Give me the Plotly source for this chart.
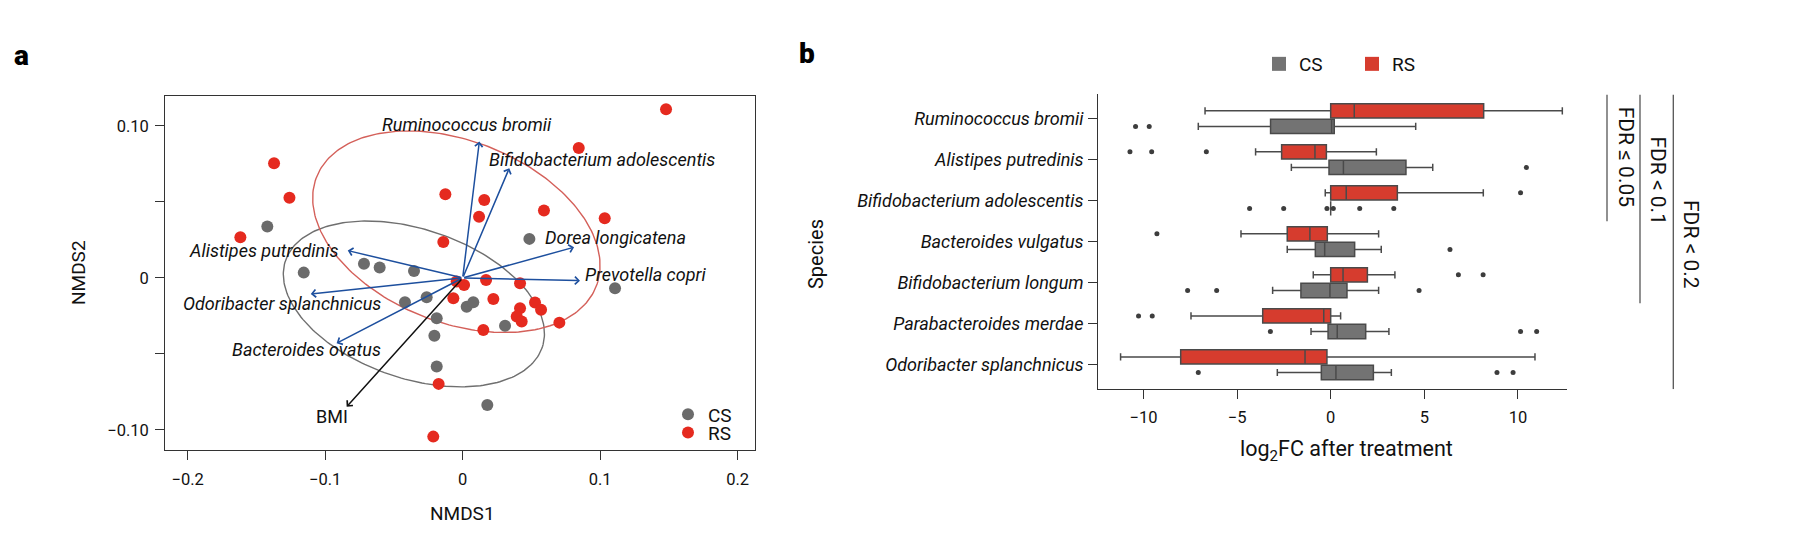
import numpy as np
import plotly.graph_objects as go

# ---------------- Panel a data (NMDS) ----------------
cs_nmds1 = [-0.1421, -0.1156, -0.0718, -0.0604, -0.0354, 0.0485, 0.1108, -0.0262,
            -0.0420, 0.0029, 0.0077, 0.0308, -0.0189, -0.0206, -0.0189, 0.0179]
cs_nmds2 = [0.0338, 0.0035, 0.0094, 0.0068, 0.0046, 0.0257, -0.0068, -0.0127,
            -0.0160, -0.0189, -0.0160, -0.0314, -0.0265, -0.0380, -0.0583, -0.0836]
rs_nmds1 = [-0.1372, -0.1260, -0.1617, 0.1479, 0.0844, -0.0126, 0.0157, 0.0119, 0.0591,
            0.1033, -0.0141, -0.0044, 0.0010, 0.0170, 0.0417, -0.0068, 0.0223, 0.0417,
            0.0526, 0.0570, 0.0393, 0.0429, 0.0150, 0.0703, -0.0175, -0.0214]
rs_nmds2 = [0.0755, 0.0528, 0.0268, 0.1110, 0.0855, 0.0551, 0.0513, 0.0403, 0.0443,
            0.0393, 0.0237, -0.0024, -0.0046, -0.0013, -0.0035, -0.0134, -0.0138, -0.0199,
            -0.0162, -0.0210, -0.0254, -0.0287, -0.0342, -0.0294, -0.0697, -0.1044]

vec_names = ["Ruminococcus bromii", "Bifidobacterium adolescentis", "Dorea longicatena",
             "Prevotella copri", "Alistipes putredinis", "Odoribacter splanchnicus",
             "Bacteroides ovatus"]
vec_x = [0.0121, 0.0339, 0.0810, 0.0853, -0.0836, -0.1105, -0.0917]
vec_y = [0.0897, 0.0722, 0.0202, -0.0018, 0.0180, -0.0105, -0.0430]
bmi_name = "BMI"
bmi_x = -0.0844
bmi_y = -0.0847

# group ellipses: centre, semi-axes, rotation (deg)
ell_groups = ["CS", "RS"]
ell_cx = [-0.0355, -0.0046]
ell_cy = [-0.0171, 0.0304]
ell_a = [0.0977, 0.1080]
ell_b = [0.0495, 0.0605]
ell_theta = [-15.8, -17.7]

# ---------------- Panel b data (log2FC boxplots) ----------------
species = ["Ruminococcus bromii", "Alistipes putredinis", "Bifidobacterium adolescentis",
           "Bacteroides vulgatus", "Bifidobacterium longum", "Parabacteroides merdae",
           "Odoribacter splanchnicus"]
rs_low = [-6.71, -4.01, -0.29, -4.79, -0.93, -7.46, -11.22]
rs_q1 = [0.00, -2.62, 0.00, -2.32, 0.00, -3.63, -8.01]
rs_med = [1.26, -0.84, 0.83, -1.11, 0.66, -0.37, -1.37]
rs_q3 = [8.17, -0.23, 3.56, -0.18, 1.96, 0.00, -0.20]
rs_high = [12.37, 2.44, 8.15, 2.56, 3.43, 0.53, 10.91]
rs_outliers = [[], [-10.72, -9.56, -6.64], [10.14], [-9.28], [6.82, 8.14],
               [-10.26, -9.53], []]

cs_low = [-7.07, -2.10, 0.00, -2.32, -3.10, -1.05, -2.85]
cs_q1 = [-3.21, -0.09, 0.00, -0.82, -1.59, -0.14, -0.50]
cs_med = [0.05, 0.68, 0.00, -0.32, -0.04, 0.35, 0.28]
cs_q3 = [0.19, 4.02, 0.00, 1.28, 0.87, 1.87, 2.28]
cs_high = [4.54, 5.45, 0.00, 2.70, 2.56, 3.11, 3.24]
cs_outliers = [[-10.42, -9.69], [10.45, 12.85], [-4.33, -2.51, -0.20, 0.14, 1.55, 3.37],
               [6.37], [-7.64, -6.09, 4.72], [-3.22, 10.14, 11.00], [-7.07, 8.88, 9.74]]

xticks_b = [-10, -5, 0, 5, 10]
fdr_labels = ["FDR \u2264 0.05", "FDR < 0.1", "FDR < 0.2"]
fdr_last_index = [2, 4, 6]

# ---------------- styles ----------------
# page body has an 8px margin: the figure is laid out in page pixel coordinates
OX, OY = 8, 8
W, H = 1794 - OX, 544 - OY
FONT = "Roboto"
RED_PT = "#e52a1f"
GRAY_PT = "#6b6b6b"
RED_BOX = "#d63c2e"
GRAY_BOX = "#737373"
BOX_LINE = "#4a4a4a"
BLUE = "#1d4f9e"
AX = "#333333"
TXT = "#111111"
ITAL = 18


def px(x):
    return (x - OX) / W


def py(y):
    return 1 - (y - OY) / H


fig = go.Figure()

# ellipses
t = np.linspace(0, 2 * np.pi, 240)
ell_colors = ["#6f6f6f", "#d4605a"]
for cx, cy, a, b, th, col in zip(ell_cx, ell_cy, ell_a, ell_b, ell_theta, ell_colors):
    r = np.deg2rad(th)
    ex = cx + a * np.cos(t) * np.cos(r) - b * np.sin(t) * np.sin(r)
    ey = cy + a * np.cos(t) * np.sin(r) + b * np.sin(t) * np.cos(r)
    fig.add_trace(go.Scatter(x=ex, y=ey, mode="lines", line=dict(color=col, width=1.4),
                             showlegend=False, hoverinfo="skip", xaxis="x", yaxis="y"))

fig.add_trace(go.Scatter(x=cs_nmds1, y=cs_nmds2, mode="markers", name="CS",
                         marker=dict(color=GRAY_PT, size=12), xaxis="x", yaxis="y",
                         legend="legend"))
fig.add_trace(go.Scatter(x=rs_nmds1, y=rs_nmds2, mode="markers", name="RS",
                         marker=dict(color=RED_PT, size=12), xaxis="x", yaxis="y",
                         legend="legend3"))

annotations = []
# arrows
for vx, vy in zip(vec_x, vec_y):
    annotations.append(dict(x=vx, y=vy, ax=0, ay=0, xref="x", yref="y", axref="x", ayref="y",
                            text="", showarrow=True, arrowhead=4, arrowsize=1.0,
                            arrowwidth=1.5, arrowcolor=BLUE, standoff=0))
annotations.append(dict(x=bmi_x, y=bmi_y, ax=0, ay=0, xref="x", yref="y", axref="x", ayref="y",
                        text="", showarrow=True, arrowhead=4, arrowsize=1.0,
                        arrowwidth=1.5, arrowcolor="#111111", standoff=0))

# arrow labels (positions only)
lab_pos = [(0.003, 0.101, "center"), (0.0179, 0.0776, "left"), (0.0586, 0.0265, "left"),
           (0.0877, 0.0020, "left"), (-0.0892, 0.0178, "right"), (-0.0578, -0.0167, "right"),
           (-0.0578, -0.0474, "right")]
for name, (lx, ly, anc) in zip(vec_names, lab_pos):
    annotations.append(dict(x=lx, y=ly, xref="x", yref="y", text=name, showarrow=False,
                            xanchor=anc, yanchor="middle",
                            font=dict(family=FONT, size=ITAL, color=TXT, style="italic")))
annotations.append(dict(x=-0.0947, y=-0.0912, xref="x", yref="y", text=bmi_name,
                        showarrow=False, xanchor="center", yanchor="middle",
                        font=dict(family=FONT, size=ITAL, color=TXT)))

# ---------------- panel b boxes ----------------
OFF = 0.19
rs_pos = [i - OFF for i in range(len(species))]
cs_pos = [i + OFF for i in range(len(species))]
fig.add_trace(go.Box(y=rs_pos, q1=rs_q1, median=rs_med, q3=rs_q3, lowerfence=rs_low,
                     upperfence=rs_high, orientation="h", width=0.35, fillcolor=RED_BOX,
                     line=dict(color=BOX_LINE, width=1.5), boxpoints=False, showlegend=False,
                     hoverinfo="skip", xaxis="x2", yaxis="y2"))
fig.add_trace(go.Box(y=cs_pos, q1=cs_q1, median=cs_med, q3=cs_q3, lowerfence=cs_low,
                     upperfence=cs_high, orientation="h", width=0.35, fillcolor=GRAY_BOX,
                     line=dict(color=BOX_LINE, width=1.5), boxpoints=False, showlegend=False,
                     hoverinfo="skip", xaxis="x2", yaxis="y2"))

ox, oy = [], []
for i, lst in enumerate(rs_outliers):
    ox += lst
    oy += [rs_pos[i]] * len(lst)
for i, lst in enumerate(cs_outliers):
    ox += lst
    oy += [cs_pos[i]] * len(lst)
fig.add_trace(go.Scatter(x=ox, y=oy, mode="markers", marker=dict(color="#3d3d3d", size=5),
                         showlegend=False, hoverinfo="skip", xaxis="x2", yaxis="y2"))

# legend entries for panel b
fig.add_trace(go.Scatter(x=[None], y=[None], mode="markers", name="CS",
                         marker=dict(symbol="square", size=14, color=GRAY_BOX),
                         xaxis="x2", yaxis="y2", legend="legend2"))
fig.add_trace(go.Scatter(x=[None], y=[None], mode="markers", name="RS",
                         marker=dict(symbol="square", size=14, color=RED_BOX),
                         xaxis="x2", yaxis="y2", legend="legend2"))

# FDR brackets
shapes = []
fdr_x = [1607, 1640, 1673.3]
fdr_tx = [1626, 1658.3, 1691]
fdr_ty = [156.7, 180.7, 244]
for lab, last, lx, tx, ty in zip(fdr_labels, fdr_last_index, fdr_x, fdr_tx, fdr_ty):
    shapes.append(dict(type="line", xref="paper", yref="y2", x0=px(lx), x1=px(lx),
                       y0=-0.58, y1=last + 0.5 if last < 6 else 6.6,
                       line=dict(color="#555555", width=1.3)))
    annotations.append(dict(x=px(tx), y=py(ty), xref="paper", yref="paper", text=lab,
                            showarrow=False, textangle=90, xanchor="center", yanchor="middle",
                            font=dict(family=FONT, size=21, color=TXT)))


def ptext(x, y, text, size, angle=0, xanchor="center", **kw):
    return dict(x=px(x), y=py(y), xref="paper", yref="paper", text=text, showarrow=False,
                textangle=angle, xanchor=xanchor, yanchor="middle",
                font=dict(family=FONT, size=size, color=kw.get("color", TXT),
                          weight=kw.get("weight", "normal")))


annotations += [
    ptext(462.5, 513, "NMDS1", 19),
    ptext(78, 273, "NMDS2", 19, angle=-90),
    ptext(1346.7, 450, "log<sub>2</sub>FC after treatment", 21.5),
    ptext(816, 254, "Species", 20, angle=-90),
    ptext(12, 55, "a", 28, xanchor="left", color="#000", weight=900),
    ptext(797, 53, "b", 28, xanchor="left", color="#000", weight=900),
]

axis_common = dict(showgrid=False, zeroline=False, showline=True, linecolor=AX, linewidth=1.2,
                   ticks="outside", ticklen=9, tickcolor=AX, tickwidth=1.2,
                   tickfont=dict(family=FONT, size=16.5, color=TXT))

legend_common = dict(xanchor="left", yanchor="middle", bgcolor="rgba(0,0,0,0)",
                     font=dict(family=FONT, size=19, color=TXT), itemwidth=30)

fig.update_layout(
    width=W, height=H, margin=dict(l=0, r=0, t=0, b=0),
    paper_bgcolor="white", plot_bgcolor="white",
    font=dict(family=FONT, color=TXT),
    xaxis=dict(domain=[px(165.3), px(755)], range=[-0.2163, 0.2126], anchor="y",
               tickvals=[-0.2, -0.1, 0, 0.1, 0.2],
               ticktext=["\u22120.2", "\u22120.1", "0", "0.1", "0.2"],
               mirror=True, ticklabelstandoff=5, **axis_common),
    yaxis=dict(domain=[py(450), py(96)], range=[-0.1132, 0.1197], anchor="x",
               tickvals=[-0.1, -0.05, 0, 0.05, 0.1],
               ticktext=["\u22120.10", "", "0", "", "0.10"],
               mirror=True, ticklabelstandoff=3, **axis_common),
    xaxis2=dict(domain=[px(1098.3), px(1567)], range=[-12.41, 12.62], anchor="y2",
                tickvals=xticks_b, ticklabelstandoff=4, **axis_common),
    yaxis2=dict(domain=[py(389.3), py(94)], range=[6.6, -0.6], anchor="x2",
                tickvals=list(range(len(species))), ticktext=species, ticklabelstandoff=1,
                **{k: v for k, v in axis_common.items() if k != "tickfont"},
                tickfont=dict(family=FONT, size=ITAL, color=TXT, style="italic")),
    legend=dict(x=px(668), y=py(414.3), **legend_common),
    legend3=dict(x=px(668), y=py(432.7), **legend_common),
    legend2=dict(x=px(1259), y=py(64), orientation="h", entrywidth=48,
                 entrywidthmode="pixels", **legend_common),
    annotations=annotations,
    shapes=shapes,
    showlegend=True,
)

fig.write_html("out.html")
